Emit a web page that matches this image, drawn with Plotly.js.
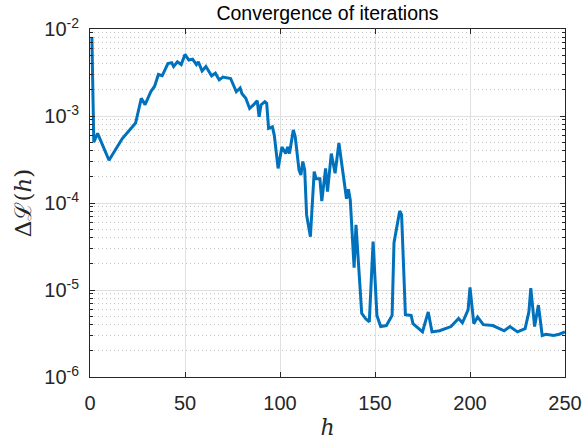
<!DOCTYPE html>
<html><head><meta charset="utf-8">
<script src="https://cdn.plot.ly/plotly-3.0.1.min.js"></script>
<style>html,body{margin:0;padding:0;background:#fff;}#plot{width:583px;height:444px;}</style>
</head><body><div id="plot"></div>
<script>
const iterations = [1,2,4,10,17,24,27,29,32,34,36,38,41,43,44,46,48,50,52,54,56,57,59,61,64,66,68,70,74,75,77,79,80,82,84,86,88,89,90,92,93,94,96,97,99,101,103,104,105,107,108,110,111,112,113,114,116,118,119,121,122,124,125,127,129,131,133,135,136,137,139,140,143,145,147,149,151,153,156,159,160,163,164,165,166,169,170,175,178,180,184,190,194,196,199,200,202,204,207,212,218,221,225,229,231,232,234,236,238,240,244,247,250];
const deltaL = [8.1e-3,5.0e-4,6.3e-4,3.1e-4,5.5e-4,8.3e-4,1.6e-3,1.35e-3,1.9e-3,2.2e-3,3.0e-3,2.9e-3,4.0e-3,4.1e-3,3.7e-3,4.2e-3,3.9e-3,5.1e-3,4.4e-3,4.5e-3,3.9e-3,4.2e-3,3.3e-3,3.7e-3,2.9e-3,3.1e-3,2.6e-3,2.8e-3,2.7e-3,2.4e-3,1.9e-3,2.1e-3,1.8e-3,1.6e-3,1.22e-3,1.34e-3,1.5e-3,9.8e-4,1.34e-3,1.46e-3,1.4e-3,7.2e-4,7.5e-4,6.0e-4,2.5e-4,4.4e-4,3.7e-4,4.4e-4,3.7e-4,6.9e-4,5.8e-4,2.4e-4,2.1e-4,3.0e-4,2.4e-4,7.3e-5,4.1e-5,2.3e-4,1.9e-4,1.9e-4,1.05e-4,2.5e-4,1.35e-4,3.7e-4,2.2e-4,4.9e-4,2.2e-4,1.12e-4,1.44e-4,1.08e-4,1.8e-5,5.6e-5,5.4e-6,4.7e-6,4.3e-6,3.6e-5,5.1e-6,3.8e-6,3.9e-6,5.1e-6,3.5e-5,8.1e-5,7.3e-5,2.0e-5,5.2e-6,5.1e-6,4.1e-6,3.3e-6,5.6e-6,3.3e-6,3.4e-6,3.8e-6,4.7e-6,4.2e-6,5.9e-6,1.07e-5,4.1e-6,4.9e-6,4.0e-6,3.9e-6,3.4e-6,3.8e-6,3.3e-6,3.6e-6,5.6e-6,1.05e-5,3.8e-6,6.7e-6,3.0e-6,3.1e-6,3.0e-6,3.1e-6,3.3e-6];
const yTickVals = [1e-6,1e-5,1e-4,1e-3,1e-2];
const yTickText = ['10<sup>-6</sup>','10<sup>-5</sup>','10<sup>-4</sup>','10<sup>-3</sup>','10<sup>-2</sup>'];
const xTickVals = [0,50,100,150,200,250];
const minorVals = [];
for (let e = -6; e < -2; e++) for (let m = 2; m <= 9; m++) minorVals.push(m * Math.pow(10, e));

const axisColor = '#262626';
const trace = {
  x: iterations, y: deltaL, type: 'scatter', mode: 'lines',
  line: {color: '#0072BD', width: 3}, hoverinfo: 'skip'
};
const layout = {
  width: 583, height: 444,
  margin: {l: 90, r: 18, t: 29, b: 67},
  paper_bgcolor: '#fff', plot_bgcolor: '#fff',
  showlegend: false,
  font: {family: 'Liberation Sans, Arial, sans-serif', color: axisColor, size: 20},
  title: {text: 'Convergence of iterations', font: {size: 19.5, color: '#000'},
          xref: 'paper', x: 0.5, xanchor: 'center', yref: 'container', y: 0.971, yanchor: 'middle'},
  xaxis: {
    range: [0, 250], tickvals: xTickVals, ticktext: xTickVals.map(String),
    ticks: 'inside', ticklen: 5, tickcolor: axisColor,
    showline: true, linecolor: axisColor, linewidth: 1, mirror: 'ticks',
    showgrid: true, gridcolor: '#e0e0e0', gridwidth: 1, zeroline: false,
    tickfont: {size: 20}, ticklabelstandoff: 8,
    title: {text: '<i>h</i>', font: {family: 'DejaVu Serif, Liberation Serif, serif', size: 22, color: axisColor}, standoff: 6}
  },
  yaxis: {
    type: 'log', range: [-6, -2], tickvals: yTickVals, ticktext: yTickText,
    ticks: 'inside', ticklen: 5, tickcolor: axisColor,
    showline: true, linecolor: axisColor, linewidth: 1, mirror: 'ticks',
    showgrid: true, gridcolor: '#e0e0e0', gridwidth: 1, zeroline: false,
    tickfont: {size: 20}, ticklabelstandoff: 6,
    minor: {tickvals: minorVals, ticks: 'inside', ticklen: 3, tickcolor: axisColor,
            showgrid: true, gridcolor: '#c4c4c4', griddash: '1px,3px', gridwidth: 1},
    title: {text: 'Δℒ(<i>h</i>)', font: {family: 'DejaVu Serif, Liberation Serif, serif', size: 23, color: axisColor}, standoff: 6}
  }
};
Plotly.newPlot('plot', [trace], layout, {displayModeBar: false, staticPlot: true});
</script></body></html>
